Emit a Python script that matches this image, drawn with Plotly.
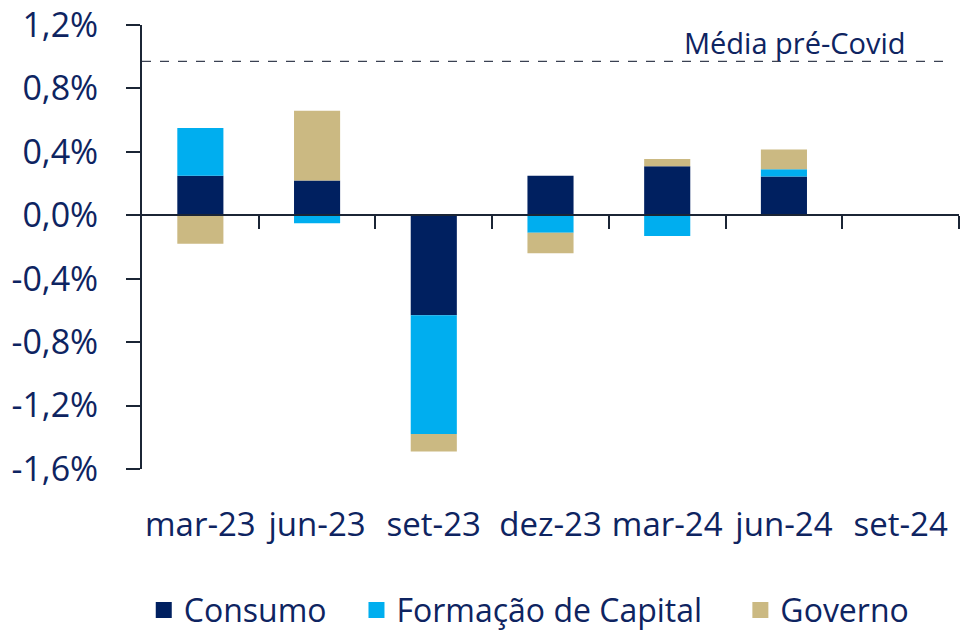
import plotly.graph_objects as go

categories = ["mar-23", "jun-23", "set-23", "dez-23", "mar-24", "jun-24", "set-24"]
consumo = [0.25, 0.22, -0.63, 0.25, 0.31, 0.245, None]
formacao = [0.30, -0.05, -0.75, -0.11, -0.13, 0.045, None]
governo = [-0.18, 0.44, -0.11, -0.13, 0.045, 0.125, None]
media_pre_covid = 0.97
y_tickvals = [1.2, 0.8, 0.4, 0.0, -0.4, -0.8, -1.2, -1.6]
y_ticktext = ["1,2%", "0,8%", "0,4%", "0,0%", "-0,4%", "-0,8%", "-1,2%", "-1,6%"]
series_names = ["Consumo", "Formação de Capital", "Governo"]

NAVY = "#002060"
CYAN = "#00AEEF"
SAND = "#CBB982"
TXT = "#0E2461"
AX = "#1B2535"
FONT = "Open Sans"
PADS = ["\u00a0\u00a0\u00a0", "\u00a0\u00a0\u00a0\u00a0", ""]

fig = go.Figure()
for name, vals, col, pad in zip(series_names, [consumo, formacao, governo], [NAVY, CYAN, SAND], PADS):
    fig.add_trace(go.Bar(x=categories, y=vals, name=name, marker=dict(color=col, line=dict(width=0)),
                         width=0.395, showlegend=False))
    fig.add_trace(go.Scatter(x=[None], y=[None], mode="markers", name=name + pad,
                             marker=dict(symbol="square", size=22, color=col), showlegend=True))

# invisible trace to make zero-line axis render
fig.add_trace(go.Scatter(x=[0], y=[0], xaxis="x2", mode="markers", marker=dict(opacity=0), showlegend=False, hoverinfo="skip"))

fig.add_shape(type="line", xref="paper", yref="y", x0=0, x1=0.983, y0=media_pre_covid, y1=media_pre_covid,
              line=dict(color="#3A4152", width=1.3, dash="dash"))
fig.add_annotation(xref="paper", yref="y", x=0.937, y=media_pre_covid, text="Média pré-Covid", showarrow=False,
                   xanchor="right", yanchor="bottom", yshift=-3, font=dict(family=FONT, size=29, color=TXT))

y0frac = 1.6 / 2.8
fig.update_layout(
    template="none",
    width=972, height=634,
    margin=dict(l=142, r=13, t=25, b=165, autoexpand=False),
    paper_bgcolor="white", plot_bgcolor="white",
    barmode="relative",
    font=dict(family=FONT, color=TXT),
    xaxis=dict(type="category", categoryorder="array", categoryarray=categories, range=[-0.5, 6.5],
               showline=False, ticks="", showgrid=False, zeroline=False, automargin=False,
               tickfont=dict(family=FONT, size=33, color=TXT), ticklabelstandoff=33),
    xaxis2=dict(overlaying="x", anchor="free", position=y0frac, range=[-0.5, 6.5], showline=True,
                linecolor=AX, linewidth=2, ticks="outside", ticklen=13, tickwidth=2, tickcolor=AX, automargin=False,
                tickvals=[0.5, 1.5, 2.5, 3.5, 4.5, 5.5, 6.5], showticklabels=False, showgrid=False, zeroline=False),
    yaxis=dict(range=[-1.6, 1.2], tickvals=y_tickvals, ticktext=y_ticktext, showline=True, linecolor=AX,
               linewidth=2, ticks="outside", ticklen=14, tickwidth=2, tickcolor=AX, showgrid=False, zeroline=False,
               automargin=False, tickfont=dict(family=FONT, size=34, color=TXT), ticklabelstandoff=21),
    legend=dict(orientation="h", x=0.474, xanchor="center", y=-0.318, yanchor="middle",
                font=dict(family=FONT, size=32, color=TXT), itemwidth=30, tracegroupgap=0,
                bgcolor="rgba(0,0,0,0)"),
    showlegend=True,
)
fig.write_html("out.html", post_script="document.body.style.margin='0';",
               config={"displayModeBar": False})
